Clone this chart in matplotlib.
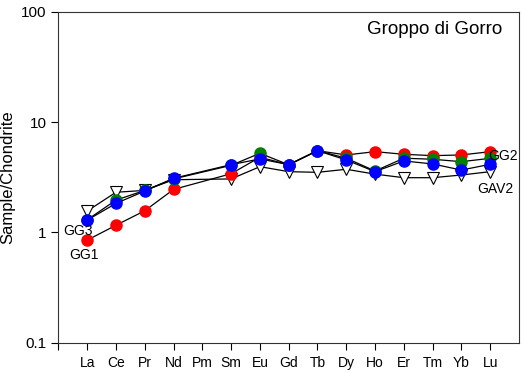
import numpy as np
import matplotlib
matplotlib.use("Agg")
import matplotlib.pyplot as plt

plt.rcParams['font.family'] = ['Liberation Sans', 'DejaVu Sans']

# Rare earth elements in chondrite-normalised order (Pm has no data)
elements = ["La", "Ce", "Pr", "Nd", "Pm", "Sm", "Eu", "Gd", "Tb", "Dy",
            "Ho", "Er", "Tm", "Yb", "Lu"]

# Normalised abundances; None where an element was not analysed
gav2 = [1.56, 2.31, 2.40, 3.00, None, 3.05, 3.94, 3.55, 3.50, 3.73,
        3.37, 3.13, 3.13, 3.31, 3.55]
gg1 = [0.85, 1.16, 1.57, 2.45, None, 3.40, 4.80, 4.10, 5.50, 5.03,
       5.39, 5.10, 4.96, 5.03, 5.39]
gg2 = [1.30, 1.96, 2.40, 3.05, None, 4.05, 5.21, 4.10, 5.50, 4.70,
       3.60, 4.70, 4.60, 4.37, 4.69]
gg3 = [1.29, 1.83, 2.37, 3.09, None, 4.11, 4.63, 4.11, 5.50, 4.53,
       3.55, 4.44, 4.17, 3.67, 4.14]

series_names = ["GAV2", "GG1", "GG2", "GG3"]


def valid(vals):
    xs = [i + 1 for i, v in enumerate(vals) if v is not None]
    ys = [v for v in vals if v is not None]
    return xs, ys


fig = plt.figure(figsize=(5.23, 3.72), dpi=100)
ax = fig.add_axes([58.4 / 523, 29.3 / 372, (519 - 58.4) / 523, (342.7 - 11.7) / 372])

x, y = valid(gav2)
ax.plot(x, y, color="black", lw=0.9, marker="v", ms=8.5, mfc="white",
        mec="black", mew=0.8, zorder=2)
x, y = valid(gg1)
ax.plot(x, y, color="black", lw=0.9, marker="o", ms=8, mfc="#ff0000",
        mec="#ff0000", zorder=3)
x, y = valid(gg2)
ax.plot(x, y, color="black", lw=0.9, marker="o", ms=8, mfc="#008000",
        mec="#008000", zorder=4)
x, y = valid(gg3)
ax.plot(x, y, color="black", lw=0.9, marker="o", ms=8, mfc="#0000ff",
        mec="#0000ff", zorder=5)

ax.set_yscale("log")
ax.set_ylim(0.1, 100)
ax.set_xlim(0, 16)
ax.set_yticks([0.1, 1, 10, 100])
ax.set_yticklabels(["0.1", "1", "10", "100"])
ax.yaxis.set_minor_locator(matplotlib.ticker.NullLocator())
ax.set_xticks(range(0, 16))
ax.set_xticklabels([""] + elements)
ax.tick_params(axis="x", direction="out", length=5, width=0.8, pad=4.5,
               labelsize=10)
ax.tick_params(axis="y", direction="out", length=5, width=0.8, pad=3.5,
               labelsize=11)
for s in ax.spines.values():
    s.set_linewidth(0.8)
    s.set_color("#333333")

ax.set_ylabel("Sample/Chondrite", fontsize=12)
ax.yaxis.set_label_coords(-0.094, 0.5)

ax.text(0.68, 1.03, "GG3", fontsize=10, ha="center", va="center", zorder=6)
ax.text(0.89, 0.62, "GG1", fontsize=10, ha="center", va="center", zorder=6)
ax.text(15.44, 4.9, "GG2", fontsize=10, ha="center", va="center", zorder=6)
ax.text(15.18, 2.45, "GAV2", fontsize=10, ha="center", va="center", zorder=6)
ax.text(13.08, 68.5, "Groppo di Gorro", fontsize=13.5, ha="center", va="center")

fig.savefig("out.png", dpi=100)
